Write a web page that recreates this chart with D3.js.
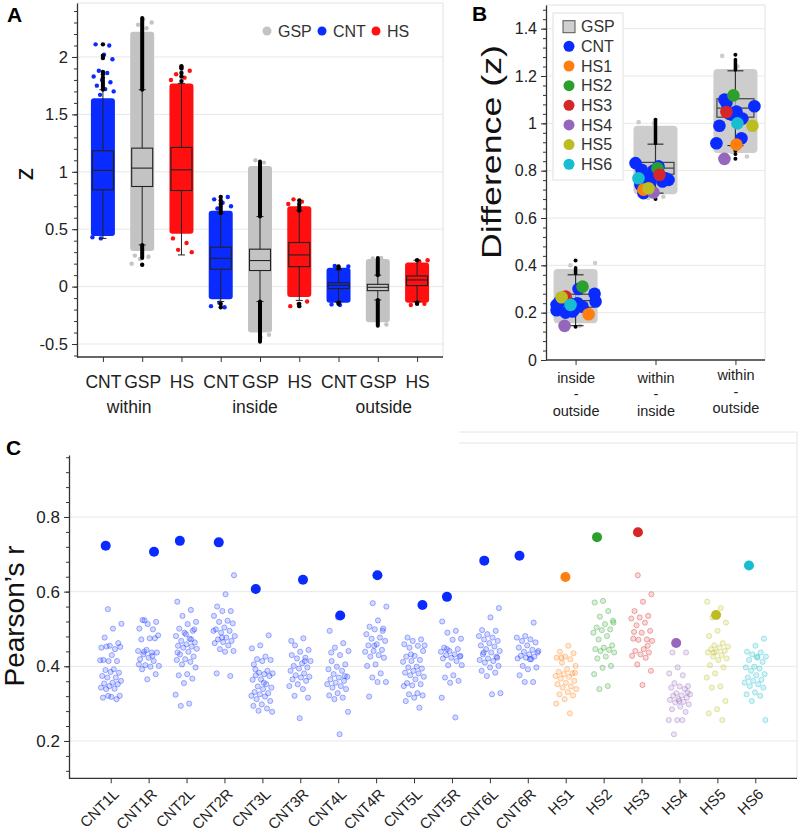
<!DOCTYPE html>
<html><head><meta charset="utf-8">
<script src="https://cdn.jsdelivr.net/npm/d3@7"></script>
<style>
body{margin:0;background:#fff;}
svg{font-family:"Liberation Sans",Arial,Helvetica,sans-serif;}
</style></head><body>
<svg id="chart" width="800" height="832"></svg>
<script>
// ================= DATA =================
// ---- Panel A : z by connection type ----
const groupsA = ["CNT","GSP","HS","CNT","GSP","HS","CNT","GSP","HS"];
const regionsA = ["within","inside","outside"];
const legendA = ["GSP","CNT","HS"];
const ticksA = [-0.5,0,0.5,1,1.5,2];
// dense part of the jittered cloud [low, high]
const cloudLoA = [0.44, 0.31, 0.46, -0.11, -0.40, -0.09, -0.14, -0.31, -0.14];
const cloudHiA = [1.64, 2.22, 1.77, 0.66, 1.05, 0.70, 0.165, 0.24, 0.21];
// sparse cloud points beyond the dense part
const tailsA = [
  [1.67,1.70,1.72,1.75,1.78,1.80,1.83,1.86,1.88,1.98,2.02,2.11,2.10,0.42,0.43],
  [2.25,2.28,2.30,2.33,0.27,0.26,0.24,0.20],
  [1.80,1.82,1.85,1.88,1.91,0.42,0.38,0.32,0.30],
  [0.68,0.70,0.73,0.76,0.78,-0.14,-0.17,-0.18],
  [1.08,1.10,-0.42,-0.44],
  [0.72,0.74,0.76,-0.13,-0.15,-0.17],
  [0.18,0.175,-0.16,-0.155],
  [0.25,0.245,-0.33],
  [0.23,0.22,-0.16,-0.15]
];
// box stats: [lower whisker, Q1, median, Q3, upper whisker]
const boxA = [
  [0.42, 0.843, 1.012, 1.183, 1.715],
  [0.363, 0.872, 1.032, 1.206, 1.715],
  [0.276, 0.837, 1.017, 1.212, 1.77],
  [-0.13, 0.151, 0.247, 0.343, 0.64],
  [-0.13, 0.14, 0.227, 0.326, 0.61],
  [-0.12, 0.174, 0.276, 0.384, 0.66],
  [-0.13, -0.017, 0.012, 0.035, 0.145],
  [-0.116, -0.035, -0.006, 0.02, 0.10],
  [-0.13, 0.009, 0.058, 0.093, 0.23]
];
// dense runs of outliers [from, to]
const outBandsA = [
  [[1.715,1.80]],
  [[1.715,2.34],[0.25,0.363]],
  [],
  [[0.64,0.70]],
  [[0.61,1.09],[-0.48,-0.13]],
  [[0.66,0.70]],
  [],
  [[0.10,0.25],[-0.34,-0.116]],
  []
];
const outPtsA = [
  [1.82,1.85,1.87,1.99,2.01,2.11],
  [0.19],
  [1.79,1.83,1.86,1.90,1.92],
  [0.72,0.75,0.78,-0.15,-0.18],
  [],
  [0.72,0.75,-0.15,-0.17],
  [0.16,0.175,-0.14,-0.15],
  [],
  [0.23,-0.14,-0.15]
];

// ---- Panel B : difference (z) ----
const catsB = ["inside-outside","within-inside","within-outside"];
const catLabelsB = [["inside","-","outside"],["within","-","inside"],["within","-","outside"]];
const ticksB = [0,0.2,0.4,0.6,0.8,1,1.2,1.4];
const cloudLoB = [0.155, 0.70, 0.875];
const cloudHiB = [0.385, 0.99, 1.23];
const tailsB = [[0.40,0.41,0.145,0.15],[1.0,1.005,0.69,0.685],[1.24,1.285,0.86,0.88]];
const boxB = [
  [0.145, 0.223, 0.251, 0.278, 0.36],
  [0.705, 0.785, 0.811, 0.835, 0.912],
  [0.906, 1.026, 1.064, 1.104, 1.222]
];
const outBandsB = [[[0.365,0.39]],[[0.915,1.01]],[[1.225,1.27]]];
const outPtsB = [[0.42,0.14],[1.015,0.68],[1.29,0.85,0.87,0.885]];
const legendB = ["GSP","CNT","HS1","HS2","HS3","HS4","HS5","HS6"];
// CNT subject values (12 per comparison)
const cntB = [
  [0.233,0.21,0.20,0.215,0.24,0.30,0.28,0.247,0.205,0.24,0.225,0.247],
  [0.832,0.804,0.705,0.754,0.761,0.79,0.768,0.775,0.80,0.754,0.74,0.818],
  [1.086,1.072,1.05,0.99,0.916,0.937,1.03,1.036,1.015,1.04,1.02,1.10]
];
// HS1..HS6 values per comparison
const hsB = [
  [0.193,0.31,0.268,0.144,0.265,0.233],
  [0.72,0.81,0.783,0.708,0.726,0.768],
  [0.91,1.118,1.048,0.85,0.99,1.0]
];

// ---- Panel C : Pearson's r per subject ----
const subjectsC = ["CNT1L","CNT1R","CNT2L","CNT2R","CNT3L","CNT3R","CNT4L","CNT4R","CNT5L","CNT5R","CNT6L","CNT6R","HS1","HS2","HS3","HS4","HS5","HS6"];
const ticksC = [0.2,0.4,0.6,0.8];
const actualC = [0.723,0.707,0.736,0.732,0.607,0.632,0.536,0.644,0.564,0.586,0.683,0.696,0.639,0.746,0.759,0.4625,0.5375,0.670];
const nullC = [
 [0.553,0.514,0.501,0.477,0.462,0.455,0.450,0.446,0.453,0.452,0.430,0.417,0.414,0.414,0.416,0.392,0.390,0.383,0.385,0.374,0.370,0.370,0.361,0.356,0.354,0.352,0.347,0.343,0.340,0.339,0.321,0.318,0.316,0.312,0.321],
 [0.524,0.519,0.513,0.501,0.499,0.523,0.483,0.475,0.472,0.475,0.444,0.441,0.437,0.432,0.437,0.423,0.419,0.414,0.403,0.401,0.399,0.392,0.379,0.365,0.405,0.428,0.439],
 [0.573,0.551,0.535,0.519,0.513,0.501,0.495,0.490,0.481,0.474,0.468,0.464,0.459,0.455,0.453,0.450,0.447,0.439,0.432,0.426,0.419,0.417,0.412,0.405,0.397,0.379,0.376,0.367,0.355,0.324,0.300,0.294,0.499,0.486,0.437,0.472],
 [0.644,0.593,0.560,0.548,0.548,0.535,0.522,0.519,0.515,0.504,0.499,0.495,0.490,0.481,0.477,0.472,0.468,0.465,0.462,0.456,0.446,0.441,0.439,0.381,0.374,0.477,0.495],
 [0.483,0.456,0.448,0.426,0.419,0.417,0.414,0.405,0.388,0.383,0.381,0.379,0.376,0.374,0.365,0.364,0.352,0.346,0.343,0.339,0.331,0.328,0.325,0.321,0.319,0.312,0.307,0.298,0.294,0.287,0.281,0.278,0.356,0.392],
 [0.475,0.456,0.444,0.439,0.430,0.423,0.421,0.414,0.408,0.401,0.397,0.394,0.388,0.381,0.376,0.372,0.370,0.365,0.361,0.352,0.347,0.339,0.321,0.316,0.261,0.468,0.414],
 [0.531,0.495,0.462,0.450,0.441,0.430,0.414,0.405,0.399,0.392,0.388,0.379,0.372,0.370,0.365,0.361,0.356,0.352,0.347,0.343,0.339,0.328,0.322,0.316,0.312,0.278,0.218,0.437,0.374],
 [0.569,0.560,0.523,0.506,0.501,0.499,0.486,0.477,0.474,0.468,0.459,0.456,0.444,0.441,0.439,0.430,0.426,0.423,0.405,0.401,0.381,0.370,0.358,0.358,0.319,0.495,0.455],
 [0.477,0.472,0.468,0.459,0.455,0.450,0.441,0.428,0.426,0.417,0.414,0.412,0.399,0.397,0.394,0.388,0.383,0.381,0.376,0.372,0.365,0.355,0.352,0.349,0.347,0.328,0.325,0.322,0.316,0.307,0.289,0.432,0.456],
 [0.520,0.495,0.490,0.474,0.471,0.450,0.446,0.441,0.439,0.432,0.430,0.426,0.423,0.421,0.414,0.403,0.403,0.376,0.370,0.361,0.356,0.316,0.263,0.446,0.428],
 [0.556,0.531,0.497,0.495,0.486,0.481,0.477,0.472,0.468,0.462,0.456,0.453,0.446,0.441,0.437,0.432,0.426,0.421,0.417,0.414,0.410,0.401,0.397,0.388,0.383,0.374,0.328,0.325,0.437,0.423],
 [0.517,0.481,0.477,0.472,0.468,0.464,0.456,0.450,0.444,0.439,0.437,0.432,0.428,0.426,0.423,0.421,0.419,0.401,0.397,0.392,0.376,0.358,0.358,0.441,0.419],
 [0.455,0.439,0.435,0.426,0.423,0.419,0.410,0.401,0.392,0.385,0.381,0.379,0.374,0.372,0.367,0.361,0.356,0.352,0.346,0.343,0.339,0.331,0.325,0.322,0.312,0.300,0.274,0.423,0.383],
 [0.575,0.571,0.548,0.533,0.517,0.513,0.504,0.499,0.497,0.490,0.481,0.472,0.456,0.450,0.446,0.444,0.441,0.437,0.426,0.421,0.401,0.396,0.379,0.347,0.339,0.522],
 [0.644,0.593,0.573,0.548,0.535,0.531,0.528,0.517,0.510,0.495,0.490,0.474,0.472,0.471,0.468,0.446,0.441,0.437,0.432,0.428,0.423,0.405,0.388,0.350,0.492,0.455],
 [0.437,0.437,0.397,0.381,0.376,0.355,0.347,0.346,0.343,0.339,0.328,0.325,0.322,0.321,0.316,0.312,0.310,0.305,0.303,0.298,0.292,0.285,0.278,0.256,0.256,0.256,0.218,0.330,0.307],
 [0.573,0.556,0.531,0.517,0.495,0.481,0.462,0.456,0.453,0.450,0.446,0.441,0.439,0.437,0.430,0.426,0.421,0.417,0.403,0.397,0.381,0.370,0.346,0.343,0.307,0.285,0.274,0.256,0.437],
 [0.474,0.455,0.439,0.437,0.432,0.426,0.423,0.417,0.412,0.399,0.397,0.394,0.388,0.379,0.376,0.370,0.364,0.361,0.356,0.352,0.347,0.343,0.330,0.325,0.321,0.307,0.256,0.426]
];

// ================= LAYOUT / STYLE =================
const FONT = '"Liberation Sans",Arial,Helvetica,sans-serif';
const BLUE = "#0a2bff", RED = "#ff0f0f", GRAY = "#c3c3c3";
const HSCOL = ["#ff7f0e","#2ca02c","#d62728","#9467bd","#bcbd22","#17becf"];
const colA = {CNT: BLUE, GSP: GRAY, HS: RED};
const legendColA = [GRAY, BLUE, RED];
const AXC = "#333", GRID = "#e8e8e8";
// jitter helper (layout only)
const jit = (i, w) => (((i * 0.6180339887 + 0.37) % 1) - 0.5) * 2 * w;
const regionLabelShiftA = [-13, -5, 6];
const jitCntB = [[-19,-19,-10,-1,2,3,19,20,-3,-6,7,-16],[-20,-14,-12,-5,13,3,10,-10,-2,7,-15,3],[-9,19,1,-16,-19,6,2,-3,3,-6,7,-11]];
const jitHsB = [[13,7,-10,-11,-14,-5],[-12,2,4,-2,-7,-17],[1,-2,-9,-11,17,2]];
const jitBigC = [-5,5.4,-6.7,-5.7,-6.6,2.7,2,1.3,8.4,-5,-5.6,-8.3,-0.3,-6.6,-3.6,-3.3,-1.3,-6.3];

const svg = d3.select("#chart");

function styleAxis(g, fs){
  g.attr("font-family", FONT).attr("font-size", fs);
  g.select(".domain").attr("stroke", AXC).attr("stroke-width", 1.3);
  g.selectAll(".tick line").attr("stroke", AXC).attr("stroke-width", 1);
  g.selectAll(".tick text").attr("fill", "#222");
}
function minorAxis(parent, axisFn, scale, vals, tx, ty){
  const g = parent.append("g").attr("transform", `translate(${tx},${ty})`)
    .call(axisFn(scale).tickValues(vals).tickSize(3).tickFormat(""));
  g.select(".domain").remove();
  g.selectAll(".tick line").attr("stroke", AXC);
}

// ================= PANEL A =================
const yA = d3.scaleLinear().domain([-0.613, 2.47]).range([357, 3]);
const xA = d3.scalePoint().domain(d3.range(groupsA.length)).range([77, 443]).padding(0.66);
const gA = svg.append("g");
const [ax0, ax1] = xA.range();
gA.selectAll(".gridA").data(ticksA).join("line")
  .attr("x1", ax0).attr("x2", ax1).attr("y1", d => yA(d)).attr("y2", d => yA(d))
  .attr("stroke", GRID).attr("stroke-width", 1);
gA.append("line").attr("x1", ax0).attr("x2", ax1).attr("y1", yA.range()[1]).attr("y2", yA.range()[1]).attr("stroke", "#e2e2e2");
gA.append("line").attr("x1", ax1).attr("x2", ax1).attr("y1", yA.range()[1]).attr("y2", yA.range()[0]).attr("stroke", "#e2e2e2");

groupsA.forEach((grp, i) => {
  const cx = xA(i), c = colA[grp];
  const b = boxA[i];
  gA.append("rect").attr("x", cx - 12).attr("width", 24)
    .attr("y", yA(cloudHiA[i])).attr("height", yA(cloudLoA[i]) - yA(cloudHiA[i]))
    .attr("rx", 3).attr("fill", c);
  gA.selectAll(null).data(tailsA[i]).join("circle")
    .attr("cx", (d, k) => cx + jit(k + i * 7, 11)).attr("cy", d => yA(d)).attr("r", 2.2).attr("fill", c);
  gA.append("line").attr("x1", cx).attr("x2", cx).attr("y1", yA(b[0])).attr("y2", yA(b[4]))
    .attr("stroke", "#222").attr("stroke-width", 1);
  [b[0], b[4]].forEach(v => gA.append("line").attr("x1", cx - 3.5).attr("x2", cx + 3.5)
    .attr("y1", yA(v)).attr("y2", yA(v)).attr("stroke", "#222").attr("stroke-width", 1));
  gA.append("rect").attr("x", cx - 10.5).attr("width", 21)
    .attr("y", yA(b[3])).attr("height", yA(b[1]) - yA(b[3]))
    .attr("fill", c).attr("stroke", "#222").attr("stroke-width", 1.1);
  gA.append("line").attr("x1", cx - 10.5).attr("x2", cx + 10.5).attr("y1", yA(b[2])).attr("y2", yA(b[2]))
    .attr("stroke", "#222").attr("stroke-width", 1.1);
  outBandsA[i].forEach(r => gA.append("line").attr("x1", cx).attr("x2", cx)
    .attr("y1", yA(r[0])).attr("y2", yA(r[1])).attr("stroke", "#000").attr("stroke-width", 4).attr("stroke-linecap", "round"));
  gA.selectAll(null).data(outPtsA[i]).join("circle")
    .attr("cx", cx).attr("cy", d => yA(d)).attr("r", 2.2).attr("fill", "#000");
});
const gAy = gA.append("g").attr("transform", `translate(${ax0},0)`)
  .call(d3.axisLeft(yA).tickValues(ticksA).tickFormat(d => String(d)).tickSize(5).tickPadding(4).tickSizeOuter(0));
styleAxis(gAy, 16.5);
minorAxis(gA, d3.axisLeft, yA, d3.range(-0.6, 2.45, 0.1).map(v => +v.toFixed(2)), ax0, 0);
const gAx = gA.append("g").attr("transform", `translate(0,${yA.range()[0]})`)
  .call(d3.axisBottom(xA).tickFormat(i => groupsA[i]).tickSize(5).tickPadding(14).tickSizeOuter(0));
gAx.select(".domain").attr("d", `M${ax0},0H${ax1}`);
styleAxis(gAx, 17.5);
regionsA.forEach((r, k) => gA.append("text").attr("x", xA(3 * k + 1) + regionLabelShiftA[k]).attr("y", 413)
  .attr("text-anchor", "middle").attr("font-size", 17.5).attr("fill", "#222").text(r));
gA.append("text").attr("transform", "translate(33,174) rotate(-90)").attr("text-anchor", "middle")
  .attr("font-size", 26).attr("fill", "#111").text("z");
gA.append("text").attr("x", 7).attr("y", 22).attr("font-size", 21).attr("font-weight", "bold").text("A");
legendA.forEach((s, k) => {
  const lx = [267, 322, 376][k];
  gA.append("circle").attr("cx", lx).attr("cy", 31).attr("r", 4.5).attr("fill", legendColA[k]);
  gA.append("text").attr("x", lx + 11).attr("y", 31).attr("dy", "0.36em").attr("font-size", 16).attr("fill", "#333").text(s);
});

// ================= PANEL B =================
const yB = d3.scaleLinear().domain([0, 1.5]).range([360, 5]);
const xB = d3.scalePoint().domain(catsB).range([546, 765]).padding(0.37);
const gB = svg.append("g");
const [bx0, bx1] = xB.range();
gB.selectAll(".gridB").data(ticksB.slice(1)).join("line")
  .attr("x1", bx0).attr("x2", bx1).attr("y1", d => yB(d)).attr("y2", d => yB(d)).attr("stroke", GRID);
gB.append("line").attr("x1", bx0).attr("x2", bx1).attr("y1", yB.range()[1]).attr("y2", yB.range()[1]).attr("stroke", "#e2e2e2");
gB.append("line").attr("x1", bx1).attr("x2", bx1).attr("y1", yB.range()[1]).attr("y2", yB.range()[0]).attr("stroke", "#e2e2e2");

catsB.forEach((cat, i) => {
  const cx = xB(cat), b = boxB[i];
  gB.append("rect").attr("x", cx - 22).attr("width", 44)
    .attr("y", yB(cloudHiB[i])).attr("height", yB(cloudLoB[i]) - yB(cloudHiB[i]))
    .attr("rx", 4).attr("fill", "#cdcdcd");
  gB.selectAll(null).data(tailsB[i]).join("circle")
    .attr("cx", (d, k) => cx + jit(k + i * 5, 20)).attr("cy", d => yB(d)).attr("r", 2.3).attr("fill", "#cdcdcd");
  gB.append("line").attr("x1", cx).attr("x2", cx).attr("y1", yB(b[0])).attr("y2", yB(b[4])).attr("stroke", "#333").attr("stroke-width", 1.2);
  [b[0], b[4]].forEach(v => gB.append("line").attr("x1", cx - 8).attr("x2", cx + 8)
    .attr("y1", yB(v)).attr("y2", yB(v)).attr("stroke", "#333").attr("stroke-width", 1.2));
  gB.append("rect").attr("x", cx - 18.5).attr("width", 37)
    .attr("y", yB(b[3])).attr("height", yB(b[1]) - yB(b[3]))
    .attr("fill", "#c8c8c8").attr("fill-opacity", 0.7).attr("stroke", "#444").attr("stroke-width", 1.2);
  gB.append("line").attr("x1", cx - 18.5).attr("x2", cx + 18.5).attr("y1", yB(b[2])).attr("y2", yB(b[2]))
    .attr("stroke", "#444").attr("stroke-width", 1.2);
  outBandsB[i].forEach(r => gB.append("line").attr("x1", cx).attr("x2", cx)
    .attr("y1", yB(r[0])).attr("y2", yB(r[1])).attr("stroke", "#000").attr("stroke-width", 3.5).attr("stroke-linecap", "round"));
  gB.selectAll(null).data(outPtsB[i]).join("circle")
    .attr("cx", cx).attr("cy", d => yB(d)).attr("r", 2).attr("fill", "#000");
  gB.selectAll(null).data(cntB[i]).join("circle")
    .attr("cx", (d, k) => cx + jitCntB[i][k]).attr("cy", d => yB(d)).attr("r", 6.3).attr("fill", BLUE);
  gB.selectAll(null).data(hsB[i]).join("circle")
    .attr("cx", (d, k) => cx + jitHsB[i][k]).attr("cy", d => yB(d)).attr("r", 6.3).attr("fill", (d, k) => HSCOL[k]);
});
const gBy = gB.append("g").attr("transform", `translate(${bx0},0)`)
  .call(d3.axisLeft(yB).tickValues(ticksB).tickFormat(d => String(d)).tickSize(5).tickPadding(4).tickSizeOuter(0));
styleAxis(gBy, 16);
minorAxis(gB, d3.axisLeft, yB, d3.range(0, 1.5, 0.04).map(v => +v.toFixed(2)), bx0, 0);
const gBx = gB.append("g").attr("transform", `translate(0,${yB.range()[0]})`)
  .call(d3.axisBottom(xB).tickSize(5).tickPadding(6).tickSizeOuter(0));
gBx.select(".domain").attr("d", `M${bx0},0H${bx1}`);
styleAxis(gBx, 14.5);
gBx.selectAll(".tick text").each(function(d, i){
  const t = d3.select(this).text(null).attr("y", null).attr("dy", null);
  const base = i === 2 ? 20 : 22.5;
  catLabelsB[i].forEach((line, j) => t.append("tspan").attr("x", 0).attr("y", base + j * 16.5).text(line));
});
gB.append("text").attr("transform", "translate(501,152) rotate(-90)").attr("text-anchor", "middle")
  .attr("font-size", 28).attr("fill", "#111").attr("textLength", 214).attr("lengthAdjust", "spacingAndGlyphs")
  .text("Difference (z)");
gB.append("text").attr("x", 472).attr("y", 21).attr("font-size", 21).attr("font-weight", "bold").text("B");
const lgB = gB.append("g");
lgB.append("rect").attr("x", 553).attr("y", 13).attr("width", 70).attr("height", 167).attr("fill", "#fff").attr("stroke", "#e0e0e0");
legendB.forEach((s, k) => {
  const ly = 26.7 + k * 19.65;
  if (k === 0) {
    lgB.append("rect").attr("x", 563).attr("y", ly - 6).attr("width", 12).attr("height", 12)
      .attr("fill", "#cfcfcf").attr("stroke", "#555").attr("stroke-width", 1);
  } else {
    lgB.append("circle").attr("cx", 569).attr("cy", ly).attr("r", 5.5).attr("fill", k === 1 ? BLUE : HSCOL[k - 2]);
  }
  lgB.append("text").attr("x", 581).attr("y", ly).attr("dy", "0.36em").attr("font-size", 16).attr("fill", "#333").text(s);
});

// ================= PANEL C =================
const yC = d3.scaleLinear().domain([0.1, 0.966]).range([778.3, 455]);
const xC = d3.scalePoint().domain(subjectsC).range([69, 797]).padding(1.1);
const gC = svg.append("g");
const [cx0, cx1] = xC.range();
gC.selectAll(".gridC").data(ticksC).join("line")
  .attr("x1", cx0).attr("x2", cx1).attr("y1", d => yC(d)).attr("y2", d => yC(d)).attr("stroke", GRID);
gC.append("line").attr("x1", 459).attr("x2", cx1).attr("y1", 432).attr("y2", 432).attr("stroke", "#e4e4e4");
gC.append("line").attr("x1", 459).attr("x2", cx1).attr("y1", 443).attr("y2", 443).attr("stroke", "#e4e4e4");
gC.append("line").attr("x1", cx1).attr("x2", cx1).attr("y1", 432).attr("y2", yC.range()[0]).attr("stroke", "#e4e4e4");

subjectsC.forEach((s, i) => {
  const c = i < 12 ? BLUE : HSCOL[i - 12];
  const x = xC(s);
  gC.selectAll(null).data(nullC[i]).join("circle")
    .attr("cx", (d, k) => x + jit(k + i * 3, 11)).attr("cy", d => yC(d)).attr("r", 2.6)
    .attr("fill", c).attr("fill-opacity", 0.18).attr("stroke", c).attr("stroke-opacity", 0.35).attr("stroke-width", 1);
  gC.append("circle").attr("cx", x + jitBigC[i]).attr("cy", yC(actualC[i])).attr("r", 5).attr("fill", c);
});
const gCy = gC.append("g").attr("transform", `translate(${cx0},0)`)
  .call(d3.axisLeft(yC).tickValues(ticksC).tickFormat(d => String(d)).tickSize(5).tickPadding(4).tickSizeOuter(0));
styleAxis(gCy, 17);
minorAxis(gC, d3.axisLeft, yC, d3.range(0.12, 0.97, 0.04).map(v => +v.toFixed(2)), cx0, 0);
const gCx = gC.append("g").attr("transform", `translate(0,${yC.range()[0]})`)
  .call(d3.axisBottom(xC).tickSize(5).tickSizeOuter(0));
gCx.select(".domain").attr("d", `M${cx0},0H${cx1}`);
styleAxis(gCx, 15);
gCx.selectAll(".tick text").attr("x", 0).attr("y", 0).attr("dy", "0.35em")
  .attr("text-anchor", "end").attr("transform", "translate(5,13) rotate(-45)");
gC.append("text").attr("transform", "translate(24,616) rotate(-90)").attr("text-anchor", "middle")
  .attr("font-size", 28).attr("fill", "#111").text("Pearson\u2019s r");
gC.append("text").attr("x", 6).attr("y", 455).attr("font-size", 21).attr("font-weight", "bold").text("C");
</script>
</body></html>
